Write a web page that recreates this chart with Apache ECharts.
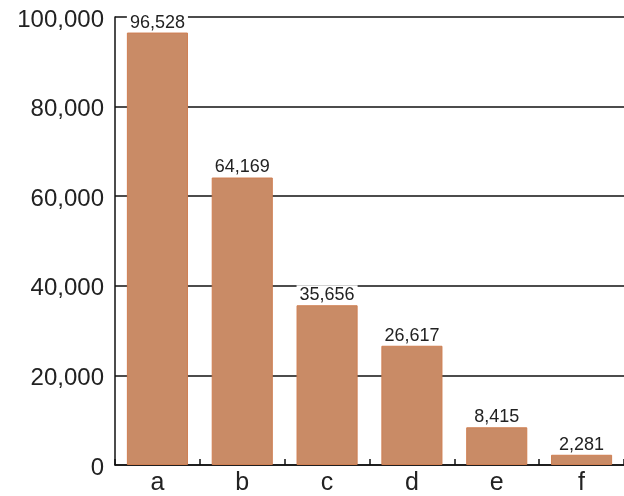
<!DOCTYPE html>
<html>
<head>
<meta charset="utf-8">
<script src="https://cdn.jsdelivr.net/npm/echarts@6/dist/echarts.min.js"></script>
<style>
  html, body { margin: 0; padding: 0; background: #fff; }
  #chart { width: 624px; height: 496px; }
</style>
</head>
<body>
<div id="chart"></div>
<script>
const categories = ['a', 'b', 'c', 'd', 'e', 'f']
const values = [96528, 64169, 35656, 26617, 8415, 2281]
const yTicks = [0, 20000, 40000, 60000, 80000, 100000]

const chart = echarts.init(document.getElementById('chart'))
const font = 'Liberation Sans, Arial, Helvetica, sans-serif'

chart.setOption({
  animation: false,
  grid: { left: 115, right: -1, top: 17, bottom: 27, containLabel: false },
  xAxis: {
    type: 'category',
    data: categories,
    axisLine: { lineStyle: { color: '#111', width: 1.5 } },
    axisTick: { show: true, inside: true, length: 6, interval: 0, lineStyle: { color: '#111', width: 1.5 } },
    axisLabel: { color: '#222', fontSize: 25, fontFamily: font, margin: 6 }
  },
  yAxis: {
    type: 'value',
    min: yTicks[0],
    max: yTicks[yTicks.length - 1],
    interval: 20000,
    axisLine: { show: true, lineStyle: { color: '#111', width: 1.5 } },
    axisTick: { show: false },
    splitLine: { lineStyle: { color: '#111', width: 1.5 } },
    axisLabel: {
      color: '#222',
      fontSize: 24,
      fontFamily: font,
      margin: 11,
      formatter: v => '{v|' + v.toLocaleString('en-US') + '}',
      rich: { v: { fontSize: 24, fontFamily: font, color: '#222', padding: [6, 0, 0, 0] } }
    }
  },
  series: [{
    type: 'bar',
    data: values,
    barCategoryGap: '28%',
    itemStyle: { color: '#c98b66', borderColor: '#cf7f52', borderWidth: 1 },
    label: {
      show: true,
      position: 'top',
      distance: 1,
      color: '#222',
      fontSize: 18,
      fontFamily: font,
      backgroundColor: '#fff',
      padding: [1, 3, 0, 3],
      formatter: p => p.value.toLocaleString('en-US')
    }
  }]
})
</script>
</body>
</html>
